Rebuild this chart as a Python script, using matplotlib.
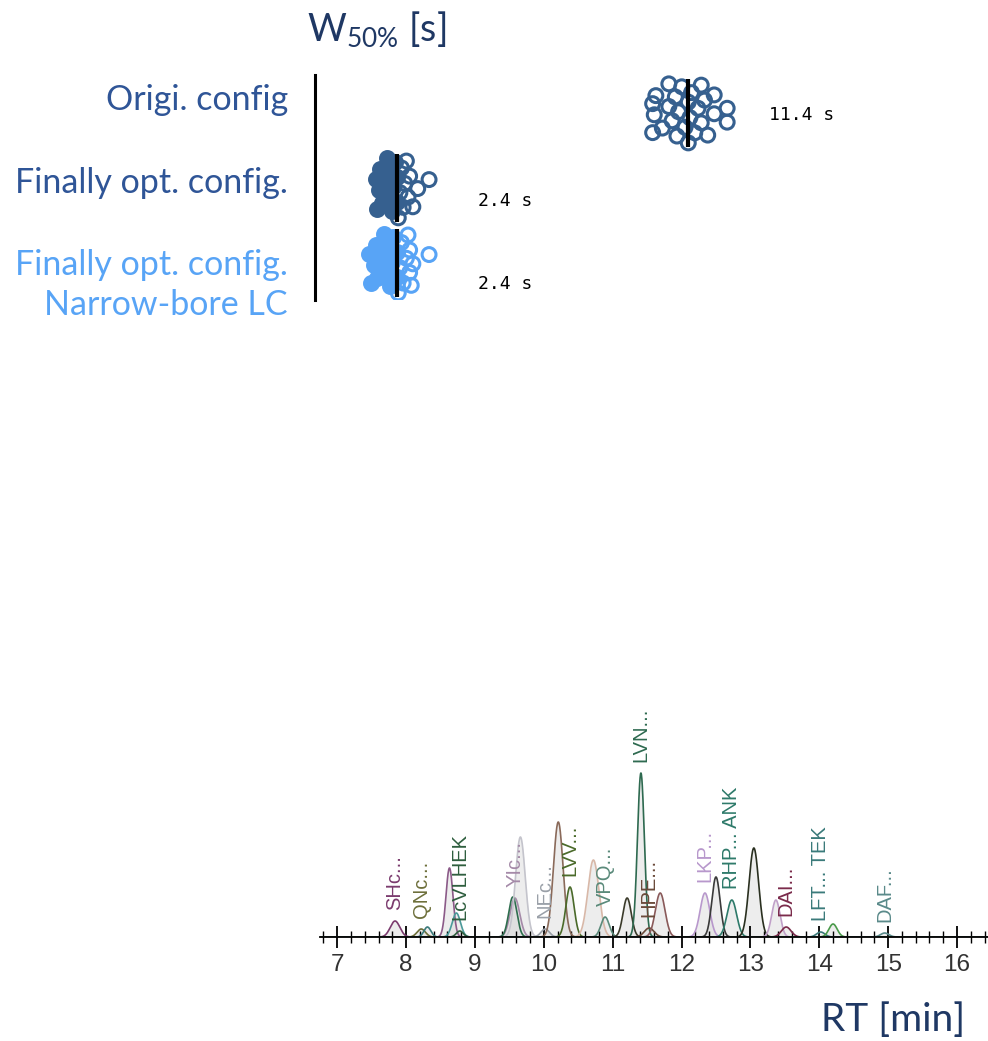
import numpy as np
import matplotlib.pyplot as plt
from matplotlib.ticker import MultipleLocator

plt.rcParams['font.family'] = ['Lato', 'DejaVu Sans']
plt.rcParams['mathtext.fontset'] = 'custom'
plt.rcParams['mathtext.rm'] = 'Lato'

# peak width at half height, W50% [s]
group_names = ['Origi. config', 'Finally opt. config.', 'Finally opt. config.\nNarrow-bore LC']
w50_orig = [10.3, 10.3, 10.35, 10.4, 10.6, 10.8, 10.8, 10.9, 11.0, 11.05, 11.1, 11.2, 11.3, 11.4,
            11.4, 11.45, 11.5, 11.6, 11.7, 11.8, 11.8, 11.9, 12.0, 12.2, 12.2, 12.6, 12.6]
w50_opt = [1.75, 1.8, 1.85, 1.9, 1.95, 2.0, 2.1, 2.15, 2.2, 2.25, 2.3, 2.35, 2.4,
           2.4, 2.45, 2.5, 2.55, 2.6, 2.65, 2.7, 2.75, 2.8, 2.9, 3.05, 3.4]
w50_nb = [1.55, 1.6, 1.7, 1.75, 1.8, 1.9, 2.0, 2.05, 2.1, 2.2, 2.25, 2.3, 2.4,
          2.4, 2.45, 2.5, 2.55, 2.6, 2.7, 2.75, 2.8, 2.8, 2.85, 2.9, 3.4]

# chromatogram peaks (RT [min], height, sigma [min], colour, label)
peak_rt = [7.84, 8.22, 8.31, 8.63, 8.73, 8.78, 9.58, 9.55, 9.66, 10.02, 10.21, 10.38, 10.72,
           10.89, 11.21, 11.41, 11.53, 11.69, 12.34, 12.50, 12.73, 13.05, 13.37, 13.52,
           14.02, 14.20, 14.95]
peak_height = [16, 8, 10, 69, 24, 6, 39, 40, 100, 8, 115, 50, 77,
               20, 39, 164, 9, 44, 44, 60, 37, 89, 37, 10,
               5, 13, 4]
peak_sigma = [0.07, 0.06, 0.05, 0.05, 0.06, 0.05, 0.07, 0.06, 0.07, 0.06, 0.07, 0.06, 0.08,
              0.06, 0.06, 0.05, 0.07, 0.07, 0.07, 0.06, 0.07, 0.07, 0.06, 0.07,
              0.06, 0.06, 0.06]
peak_color = ['#7b3b6e', '#6d6f3a', '#3a7a7a', '#8b5a88', '#4a9a9a', '#2e5e3e', '#a58aa8',
              '#2e6e4e', '#c4c4cc', '#9aa0a8', '#8a6a5a', '#4a6a2a', '#d8b8a8', '#5a8a7a',
              '#3a3a2a', '#2e6a50', '#6a4a3a', '#8a5a5a', '#b898cc', '#3a3a3a', '#2e7a6a',
              '#2a3020', '#c0a0c8', '#7a2a4a', '#3a7a7a', '#4a9a4a', '#5a8a8a']
peak_label = ['SHc...', 'QNc...', '', '', '', 'LcVLHEK', 'YIc...', '', '', 'NEc...', '', 'LVV...',
              '', 'VPQ...', '', 'LVN...', 'HPE...', '', 'LKP...', '', 'RHP... ANK', '', '',
              'DAI...', 'LFT... TEK', '', 'DAF...']

dark = '#36608f'
light = '#58a4f6'
navy = '#1f3864'

fig = plt.figure(figsize=(9.88, 10.41), dpi=100)

# --- top: W50% distributions ---
ax = fig.add_axes([315 / 988, 1 - 300 / 1041, 673 / 988, 225 / 1041])
data = [w50_orig, w50_opt, w50_nb]
cols = [dark, dark, light]
text_cols = ['#2f5597', '#2f5597', light]
filled_left = [False, True, True]
label_dy = [0.03, 0.17, 0.28]

for i, (vals, col) in enumerate(zip(data, cols)):
    vals = np.array(vals)
    med = np.median(vals)
    bw = vals.std() * len(vals) ** -0.2
    dens = np.exp(-0.5 * ((vals[:, None] - vals[None, :]) / bw) ** 2).sum(1)
    dens = dens / dens.max()
    u = ((np.arange(len(vals)) * 0.618034 + 0.3) % 1) * 2 - 1
    yy = i + u * 0.44 * np.sqrt(dens)
    left = vals <= med
    if filled_left[i]:
        ax.scatter(vals[left], yy[left], s=100, color=col, linewidths=2.2, zorder=2)
        ax.scatter(vals[~left], yy[~left], s=100, facecolors='none', edgecolors=col,
                   linewidths=2.2, zorder=2)
    else:
        ax.scatter(vals, yy, s=100, facecolors='none', edgecolors=col, linewidths=2.2, zorder=2)
    ax.plot([med, med], [i - 0.45, i + 0.45], color='k', lw=3, zorder=3, solid_capstyle='butt')
    ax.text(med + 2.5, i + label_dy[i], f'{med:.1f} s', family='DejaVu Sans Mono',
            fontsize=13, va='center')

ax.set_xlim(-0.12, 20.65)
ax.set_ylim(2.493, -0.507)
for s in ['top', 'right', 'bottom']:
    ax.spines[s].set_visible(False)
ax.spines['left'].set_linewidth(2.2)
ax.set_xticks([])
ax.set_yticks([])
ax.patch.set_alpha(0)

fig.text(288 / 988, 1 - 100 / 1041, group_names[0], ha='right', va='center', fontsize=24.5, color=text_cols[0])
fig.text(288 / 988, 1 - 183 / 1041, group_names[1], ha='right', va='center', fontsize=24.5, color=text_cols[1])
fig.text(288 / 988, 1 - 285 / 1041, group_names[2], ha='right', va='center', fontsize=24.5,
         color=text_cols[2], linespacing=1.3)
fig.text(307 / 988, 1 - 30 / 1041, r'W$_{\mathrm{50\%}}$ [s]', fontsize=27, color=navy, va='center')

# --- bottom: chromatogram ---
axc = fig.add_axes([320 / 988, 104 / 1041, 668 / 988, 237 / 1041])
x = np.linspace(6.75, 16.45, 3000)
for rt, h, sg, c, lab in zip(peak_rt, peak_height, peak_sigma, peak_color, peak_label):
    y = h * np.exp(-0.5 * ((x - rt) / sg) ** 2)
    axc.fill_between(x, y, color='#dcdcdc', alpha=0.5, lw=0, zorder=1)
    axc.plot(x, y, color=c, lw=1.2, zorder=2)
    if lab:
        axc.text(rt, h + 11, lab, rotation=90, ha='center', va='bottom', color=c,
                 fontsize=14.5, family='Liberation Sans')

axc.set_xlim(6.75, 16.45)
axc.set_ylim(0, 237)
for s in ['top', 'right', 'left']:
    axc.spines[s].set_visible(False)
axc.spines['bottom'].set_linewidth(1.3)
axc.spines['bottom'].set_zorder(3)
axc.set_yticks([])
axc.set_xticks(range(7, 17))
axc.xaxis.set_minor_locator(MultipleLocator(0.2))
axc.tick_params(axis='x', which='major', direction='inout', length=16, width=1.3,
                labelsize=17.5, labelcolor='#333333', pad=4)
axc.tick_params(axis='x', which='minor', direction='inout', length=8, width=1.0)
for t in axc.get_xticklabels():
    t.set_family('Liberation Sans')
axc.patch.set_alpha(0)

fig.text(965 / 988, 1 - 1020 / 1041, 'RT [min]', ha='right', va='center', fontsize=28, color=navy)

fig.savefig('out.png', dpi=100)
